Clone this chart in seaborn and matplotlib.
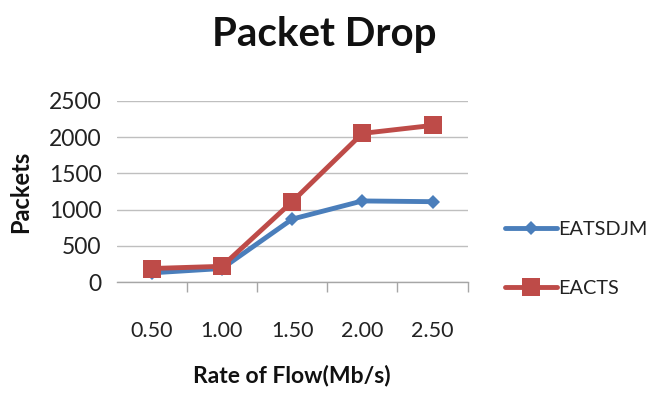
import matplotlib
matplotlib.use("Agg")
import matplotlib.pyplot as plt
import seaborn as sns
import pandas as pd
from matplotlib.ticker import FixedLocator

# ---- data ----
rates = ["0.50", "1.00", "1.50", "2.00", "2.50"]
eatsdjm = [130, 190, 870, 1120, 1110]
eacts = [190, 220, 1110, 2050, 2160]
series_names = ["EATSDJM", "EACTS"]
y_ticks = [0, 500, 1000, 1500, 2000, 2500]

df = pd.DataFrame({
    "rate": rates * 2,
    "packets": eatsdjm + eacts,
    "series": [series_names[0]] * len(rates) + [series_names[1]] * len(rates),
})

sns.set_style("white")
plt.rcParams["font.family"] = ["Lato", "DejaVu Sans"]

colors = {"EATSDJM": "#4A7EBB", "EACTS": "#BE4B48"}

fig = plt.figure(figsize=(6.54, 4.03), dpi=100)
ax = fig.add_axes([0.1784, 0.2995, 0.5367, 0.4506])

sns.lineplot(data=df, x="rate", y="packets", hue="series", style="series",
             hue_order=series_names, style_order=series_names,
             palette=colors, markers={"EATSDJM": "D", "EACTS": "s"},
             dashes=False, linewidth=3.5, markeredgewidth=0, ax=ax,
             legend=False, sort=False)

lines = ax.get_lines()
msizes = {0: 7.5, 1: 13}
for i, ln in enumerate(lines[:2]):
    ln.set_markersize(msizes[i])
    ln.set_clip_on(False)

ax.set_xlim(-0.5, 4.5)
ax.set_ylim(0, 2500)
ax.set_yticks(y_ticks)
ax.set_yticklabels([str(v) for v in y_ticks])
ax.yaxis.grid(True, color="#BFBFBF", linewidth=1.0)
ax.xaxis.grid(False)
for s in ["top", "right", "left"]:
    ax.spines[s].set_visible(False)
ax.spines["bottom"].set_color("#A6A6A6")
ax.spines["bottom"].set_linewidth(1.0)

ax.xaxis.set_minor_locator(FixedLocator([0.5, 1.5, 2.5, 3.5, 4.5]))
ax.tick_params(axis="x", which="major", length=0, pad=28, labelsize=15.5,
               labelcolor="#222222")
ax.tick_params(axis="x", which="minor", length=7, width=1.0, color="#A6A6A6",
               direction="out", bottom=True)
ax.tick_params(axis="y", length=0, pad=11, labelsize=16.5, labelcolor="#222222")

ax.set_xlabel("Rate of Flow(Mb/s)", fontsize=16.5, fontweight="bold",
              labelpad=17, color="#111111")
ax.set_ylabel("Packets", fontsize=17, fontweight="bold", labelpad=12,
              color="#111111")

fig.text(0.496, 0.885, "Packet Drop", ha="center", va="baseline",
         fontsize=29, fontweight="bold", color="#111111")

handles = lines[:2]
leg = fig.legend(handles, series_names, loc="center left",
                 bbox_to_anchor=(0.772, 0.357), frameon=False,
                 fontsize=14.3, handlelength=2.62, handletextpad=0.05,
                 labelspacing=2.1, borderaxespad=0, borderpad=0)
for t in leg.get_texts():
    t.set_color("#222222")

fig.savefig("out.png", dpi=100)
